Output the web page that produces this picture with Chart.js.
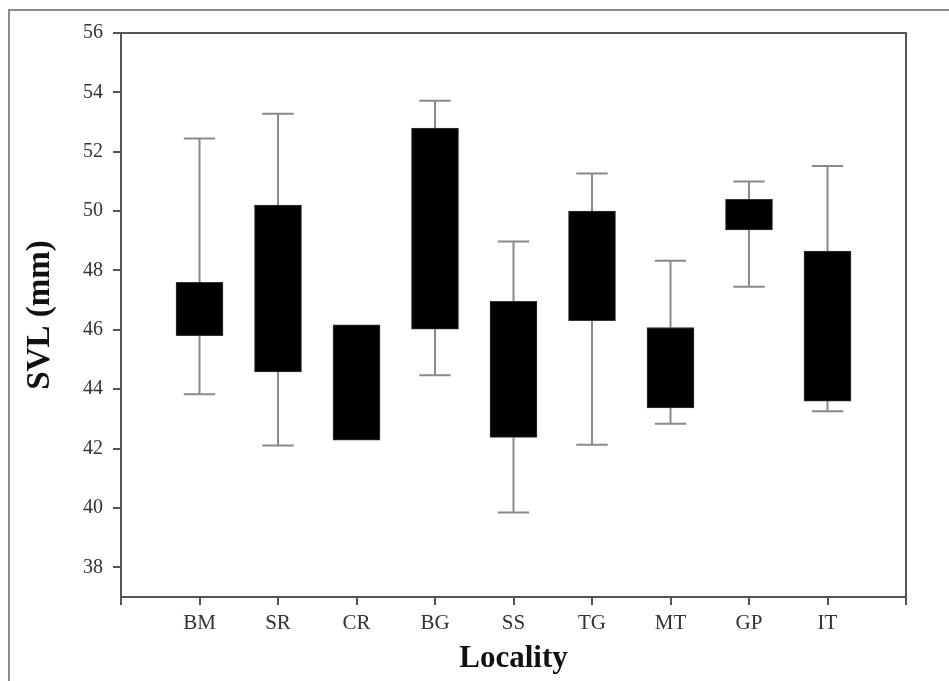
<!DOCTYPE html>
<html>
<head>
<meta charset="utf-8">
<script src="https://cdn.jsdelivr.net/npm/chart.js@4/dist/chart.umd.min.js"></script>
<style>
  html, body { margin: 0; padding: 0; background: #fff; }
  #wrap { position: relative; width: 949px; height: 681px; }
  #frame { position: absolute; left: 8px; top: 9px; right: -4px; bottom: -4px; border-left: 2px solid #8c8c8c; border-top: 2px solid #8c8c8c; }
  canvas { position: absolute; left: 0; top: 0; }
</style>
</head>
<body>
<div id="wrap">
  <div id="frame"></div>
  <canvas id="chart" width="949" height="681"></canvas>
</div>
<script>
const localities = ["BM", "SR", "CR", "BG", "SS", "TG", "MT", "GP", "IT"];
const whiskerHigh = [52.45, 53.28, null, 53.72, 48.98, 51.27, 48.33, 51.0, 51.52];
const boxHigh = [47.6, 50.2, 46.17, 52.8, 46.96, 50.0, 46.08, 50.4, 48.65];
const boxLow = [45.8, 44.58, 42.28, 46.02, 42.38, 46.31, 43.37, 49.37, 43.6];
const whiskerLow = [43.83, 42.1, null, 44.47, 39.85, 42.13, 42.84, 47.45, 43.26];
const xTickValues = [0, 1, 2, 3, 4, 5, 6, 7, 8, 9, 10];
const yTickValues = [38, 40, 42, 44, 46, 48, 50, 52, 54, 56];

const CAP_HALF = 0.2;
const FONT = "'Liberation Serif', 'Times New Roman', serif";

const boxes = localities.map((name, i) => ({ x: i + 1, y: [boxLow[i], boxHigh[i]] }));

// whisker stems and caps, broken into segments by null points
const stems = [];
const caps = [];
localities.forEach((name, i) => {
  const x = i + 1;
  if (whiskerHigh[i] != null) {
    stems.push({ x, y: boxHigh[i] }, { x, y: whiskerHigh[i] }, { x, y: null });
    caps.push({ x: x - CAP_HALF, y: whiskerHigh[i] }, { x: x + CAP_HALF, y: whiskerHigh[i] }, { x, y: null });
  }
  if (whiskerLow[i] != null) {
    stems.push({ x, y: boxLow[i] }, { x, y: whiskerLow[i] }, { x, y: null });
    caps.push({ x: x - CAP_HALF, y: whiskerLow[i] }, { x: x + CAP_HALF, y: whiskerLow[i] }, { x, y: null });
  }
});

const plotFrame = {
  id: "plotFrame",
  afterDraw(chart) {
    const { ctx, chartArea: a } = chart;
    ctx.save();
    ctx.strokeStyle = "#555";
    ctx.lineWidth = 2;
    ctx.beginPath();
    ctx.moveTo(a.left, a.top);
    ctx.lineTo(a.right, a.top);
    ctx.lineTo(a.right, a.bottom + 8);
    ctx.stroke();
    ctx.restore();
  }
};

new Chart(document.getElementById("chart"), {
  type: "bar",
  data: {
    datasets: [
      {
        type: "line",
        data: stems,
        borderColor: "#8a8a8a",
        borderWidth: 2,
        pointRadius: 0,
        spanGaps: false,
        order: 3
      },
      {
        type: "line",
        data: caps,
        borderColor: "#8a8a8a",
        borderWidth: 2,
        pointRadius: 0,
        spanGaps: false,
        order: 2
      },
      {
        type: "bar",
        data: boxes,
        backgroundColor: "#000",
        borderColor: "#333",
        borderWidth: 1,
        borderSkipped: false,
        barThickness: 47,
        order: 1
      }
    ]
  },
  options: {
    responsive: false,
    animation: false,
    layout: { padding: { left: 0, top: 33, right: 43, bottom: 0 } },
    plugins: {
      legend: { display: false },
      tooltip: { enabled: false }
    },
    scales: {
      x: {
        type: "linear",
        offset: false,
        min: 0,
        max: 10,
        afterBuildTicks: axis => { axis.ticks = xTickValues.map(value => ({ value })); },
        afterFit: axis => { axis.height = 84; },
        ticks: {
          callback: v => localities[v - 1] || "",
          color: "#333",
          font: { family: FONT, size: 21 },
          padding: 6,
          maxRotation: 0,
          autoSkip: false
        },
        grid: { drawOnChartArea: false, offset: false, color: "#555", lineWidth: 2, tickLength: 8 },
        border: { color: "#555", width: 2 },
        title: {
          display: true,
          text: "Locality",
          color: "#111",
          font: { family: FONT, size: 31, weight: "bold" },
          padding: { top: 0, bottom: 3 }
        }
      },
      y: {
        min: 37,
        max: 56,
        afterBuildTicks: axis => { axis.ticks = yTickValues.map(value => ({ value })); },
        afterFit: axis => { axis.width = 121; },
        ticks: {
          color: "#333",
          font: { family: FONT, size: 20 },
          padding: 10
        },
        grid: { drawOnChartArea: false, color: "#555", lineWidth: 2, tickLength: 8 },
        border: { color: "#555", width: 2 },
        title: {
          display: true,
          text: "SVL (mm)",
          color: "#111",
          font: { family: FONT, size: 33, weight: "bold" },
          padding: { top: 21, bottom: 0 }
        }
      }
    }
  },
  plugins: [plotFrame]
});
</script>
</body>
</html>
